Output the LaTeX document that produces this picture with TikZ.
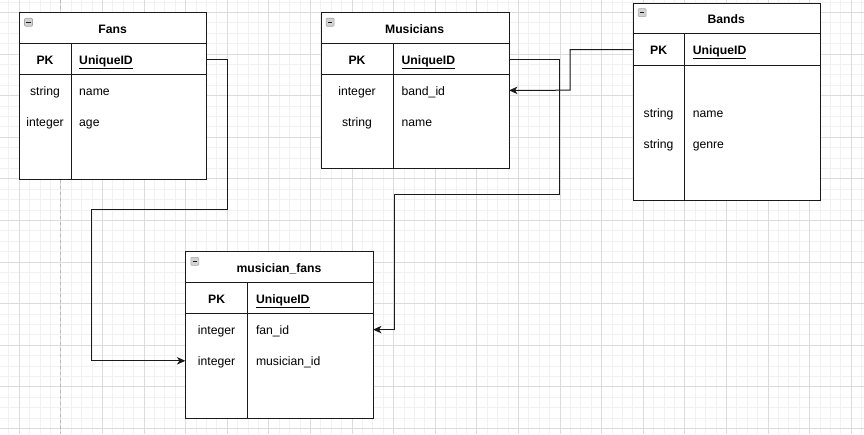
\documentclass[tikz,border=0pt]{standalone}
\usepackage{fontspec}
\setmainfont{Liberation Sans}
\usetikzlibrary{arrows.meta}
\definecolor{gridminor}{HTML}{F1F1F1}
\definecolor{gridmajor}{HTML}{DCDCDC}
\definecolor{ink}{HTML}{1A1A1A}
\definecolor{pageline}{HTML}{B8B8B8}
\tikzset{
  tblbox/.style={draw=ink, line width=1pt, fill=white, inner sep=0pt, anchor=north west},
  tline/.style={draw=ink, line width=1pt},
  rowspan/.style={inner sep=0pt, minimum height=31.2pt, anchor=north west},
  ttl/.style={font=\fontsize{12.2}{14}\selectfont\bfseries, inner sep=0pt, text height=8.8pt, text depth=0pt, yshift=-0.8pt},
  txt/.style={font=\fontsize{12.2}{14}\selectfont, inner sep=0pt, text height=8.8pt, text depth=0pt, yshift=-0.8pt},
  iconbox/.style={draw=gray!70, fill=gray!35, line width=0.6pt, rounded corners=1pt},
  iconbar/.style={draw=gray!20!black, line width=1.2pt},
  conn/.style={draw=ink, line width=1pt, -{Stealth[length=8.5pt,width=7.5pt,inset=2.5pt]}},
  gmin/.style={draw=gridminor, line width=0.6pt},
  gmaj/.style={draw=gridmajor, line width=0.6pt}
}
% table: name, x, y, W, H, divider offset, title
\newcommand\ertable[7]{%
  \node[tblbox, minimum width=#4pt, minimum height=#5pt] (#1) at (#2,#3) {};
  \draw[tline] (#2,#3+31.2) -- ++(#4,0) (#2,#3+62.4) -- ++(#4,0) (#2+#6,#3+31.2) -- (#2+#6,#3+#5);
  \node[ttl] (#1-title) at (#2+#4/2,#3+15.6) {#7};
  \draw[iconbox] (#2+5.5,#3+6) rectangle ++(8,8);
  \draw[iconbar] (#2+7.3,#3+10) -- ++(4.4,0);
  \node[rowspan, minimum width=#4pt] (#1-pk) at (#2,#3+31.2) {};
  \node[ttl] (#1-pkl) at (#2+#6/2,#3+46.8) {PK};
  \node[ttl, anchor=west] (#1-uid) at (#2+#6+8,#3+46.8) {\underline{UniqueID}};
}
% row: table, id, x, ytop, W, d, type, name
\newcommand\errow[8]{%
  \node[rowspan, minimum width=#5pt] (#1-#2) at (#3,#4) {};
  \node[txt] (#1-#2-t) at (#3+#6/2,#4+15.6) {#7};
  \node[txt, anchor=west] (#1-#2-n) at (#3+#6+8,#4+15.6) {#8};
}
\begin{document}
\begin{tikzpicture}[x=1pt, y=-1pt]
  \useasboundingbox (0,0) rectangle (864,434);
  \fill[white] (0,0) rectangle (864,434);
  % grid
  \foreach \k in {0,...,82} \draw[gmin] (8.6+10.4*\k,0) -- ++(0,434);
  \foreach \k in {0,...,41} \draw[gmin] (0,1.8+10.4*\k) -- ++(864,0);
  \foreach \k in {0,...,20} \draw[gmaj] (19+41.6*\k,0) -- ++(0,434);
  \foreach \k in {0,...,10} \draw[gmaj] (0,12.2+41.6*\k) -- ++(864,0);
  \draw[pageline, line width=0.7pt, dash pattern=on 3pt off 3pt] (60.6,0) -- (60.6,434);

  % tables
  \ertable{fans}{19}{12.2}{187.2}{166.4}{52}{Fans}
  \errow{fans}{r1}{19}{74.6}{187.2}{52}{string}{name}
  \errow{fans}{r2}{19}{105.8}{187.2}{52}{integer}{age}

  \ertable{mus}{320.6}{12.2}{188}{156}{72.8}{Musicians}
  \errow{mus}{r1}{320.6}{74.6}{188}{72.8}{integer}{band\_id}
  \errow{mus}{r2}{320.6}{105.8}{188}{72.8}{string}{name}

  \ertable{bands}{632.6}{2.6}{187.2}{197.2}{52}{Bands}
  \errow{bands}{r1}{632.6}{96.2}{187.2}{52}{string}{name}
  \errow{bands}{r2}{632.6}{127.4}{187.2}{52}{string}{genre}

  \ertable{mf}{185.4}{251.4}{187.2}{166.4}{62.4}{musician\_fans}
  \errow{mf}{r1}{185.4}{313.8}{187.2}{62.4}{integer}{fan\_id}
  \errow{mf}{r2}{185.4}{345}{187.2}{62.4}{integer}{musician\_id}

  % connectors
  \draw[conn] (fans-pk.east) -| (227,209.8) -- (91.8,209.8) |- (mf-r2.west);
  \draw[conn] (mus-pk.east) -| (559.8,194.2) -- (394.5,194.2) |- (mf-r1.east);
  \draw[conn] (bands-pk.west) -| (570.2,90.2) -- (mus-r1.east);
\end{tikzpicture}
\end{document}
